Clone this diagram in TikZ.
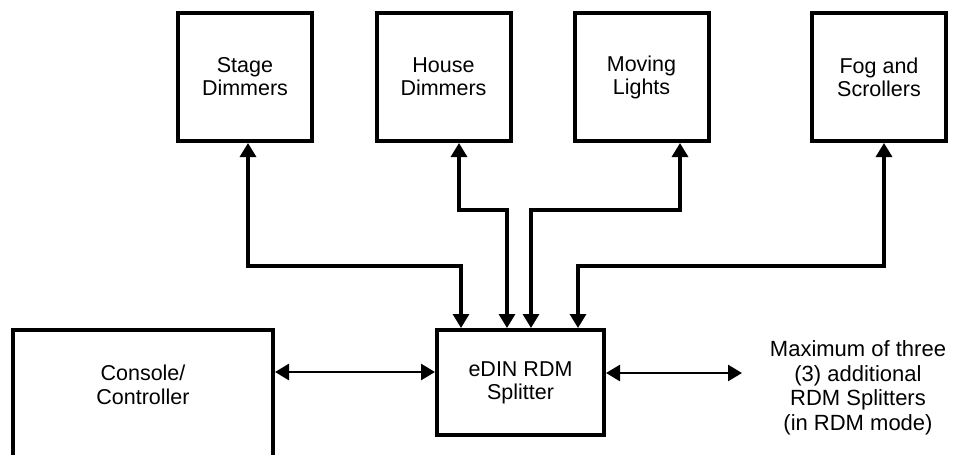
\documentclass[tikz,border=0pt]{standalone}
\usepackage{fontspec}
\setmainfont{Liberation Sans}
\usetikzlibrary{arrows.meta}
\begin{document}
\begin{tikzpicture}[x=1pt,y=-1pt,
  box/.style={draw, line width=4pt, inner sep=0pt, align=center,
    font=\fontsize{21.5}{23}\selectfont},
  lbl/.style={align=center, inner sep=0pt, font=\fontsize{21.5}{24}\selectfont},
  tip/.tip={Triangle[length=14pt,width=16pt]},
  conn/.style={line width=3.2pt, tip-tip},
]
\useasboundingbox (0,0) rectangle (956,455);
\clip (0,0) rectangle (956,455);
% top boxes
\node[box, minimum width=134pt, minimum height=128pt] (stage)  at (245,77)   {Stage\\Dimmers};
\node[box, minimum width=134pt, minimum height=128pt] (house)  at (443.5,77) {House\\Dimmers};
\node[box, minimum width=134pt, minimum height=128pt] (moving) at (641.5,77) {Moving\\Lights};
\node[box, minimum width=134pt, minimum height=128pt] (fog)    at (879,77)   {Fog and\\Scrollers};
% splitter
\node[box, minimum width=167pt, minimum height=105pt] (splitter) at (520.5,382.5) {eDIN RDM\\Splitter};
% console (box runs past the bottom edge)
\node[box, minimum width=260pt, minimum height=150pt] (console) at (143,405) {};
\node[lbl] (consolelbl) at (143,385) {Console/\\Controller};
% note
\node[lbl, font=\fontsize{22}{24.5}\selectfont] (note) at (858,388) {Maximum of three\\(3) additional\\RDM Splitters\\(in RDM mode)};
\coordinate (ext) at (742,373);
% connectors
\draw[conn] (stage.south -| 248,0) -- (248,266) -- (461,266) -- (splitter.north -| 461,0);
\draw[conn] (house.south -| 459,0) -- (459,210) -- (507,210) -- (splitter.north -| 507,0);
\draw[conn] (moving.south -| 680,0) -- (680,210) -- (531,210) -- (splitter.north -| 531,0);
\draw[conn] (fog.south -| 884,0) -- (884,266) -- (578,266) -- (splitter.north -| 578,0);
\draw[conn, line width=2.6pt] (console.east |- 0,372) -- (splitter.west |- 0,372);
\draw[conn, line width=2.6pt] (splitter.east |- 0,373) -- (ext);
\end{tikzpicture}
\end{document}
